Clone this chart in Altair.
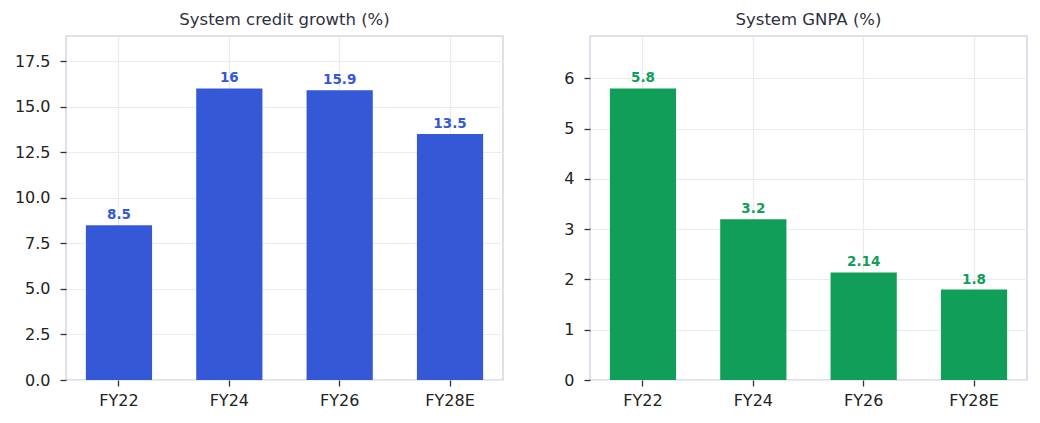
import altair as alt
import pandas as pd

categories = ["FY22", "FY24", "FY26", "FY28E"]
credit_values = [8.5, 16.0, 15.9, 13.5]
credit_labels = ["8.5", "16", "15.9", "13.5"]
gnpa_values = [5.8, 3.2, 2.14, 1.8]
gnpa_labels = ["5.8", "3.2", "2.14", "1.8"]
credit_ticks = [0, 2.5, 5, 7.5, 10, 12.5, 15, 17.5]
gnpa_ticks = [0, 1, 2, 3, 4, 5, 6]

BLUE = "#3558D6"
GREEN = "#119E58"
FONT = "DejaVu Sans"


def panel(values, labels, ticks, ymax, color, title, fmt):
    df = pd.DataFrame({"cat": categories, "val": values, "lab": labels})
    x = alt.X(
        "cat:N",
        sort=categories,
        scale=alt.Scale(paddingInner=0.4, paddingOuter=0.18),
        axis=alt.Axis(
            title=None, labelAngle=0, bandPosition=0.5, grid=True,
            gridColor="#e9ebf1", gridWidth=1.2, domain=False,
            ticks=True, tickColor="#333333", tickSize=6, tickWidth=1.3,
            labelFont=FONT, labelFontSize=16, labelColor="#222222", labelPadding=6,
        ),
    )
    y = alt.Y(
        "val:Q",
        scale=alt.Scale(domain=[0, ymax], nice=False, zero=True),
        axis=alt.Axis(
            title=None, values=ticks, format=fmt, grid=True,
            gridColor="#e9ebf1", gridWidth=1.2, domain=False,
            ticks=True, tickColor="#333333", tickSize=6, tickWidth=1.3,
            labelFont=FONT, labelFontSize=16, labelColor="#222222", labelPadding=10,
            minExtent=60, maxExtent=60,
        ),
    )
    bars = alt.Chart(df).mark_bar(color=color).encode(x=x, y=y)
    text = alt.Chart(df).mark_text(
        color=color, font=FONT, fontSize=13.5, fontWeight="bold",
        baseline="alphabetic", dy=-6,
    ).encode(x=alt.X("cat:N", sort=categories), y="val:Q", text="lab:N")
    return alt.layer(bars, text).properties(
        width=437, height=344,
        title=alt.TitleParams(title, font=FONT, fontSize=16.5, fontWeight="normal",
                              color="#2d3140", offset=8),
    )


left = panel(credit_values, credit_labels, credit_ticks, 18.88, BLUE,
             "System credit growth (%)", ".1f")
right = panel(gnpa_values, gnpa_labels, gnpa_ticks, 6.844, GREEN,
              "System GNPA (%)", "d")

chart = alt.hconcat(left, right, spacing=25).properties(
    padding={"left": 5, "top": 10, "right": 5, "bottom": 5},
    background="white",
).configure_view(stroke="#d4d8e3", strokeWidth=1.5)

chart.save("out.html", embed_options={"renderer": "svg", "actions": False})
